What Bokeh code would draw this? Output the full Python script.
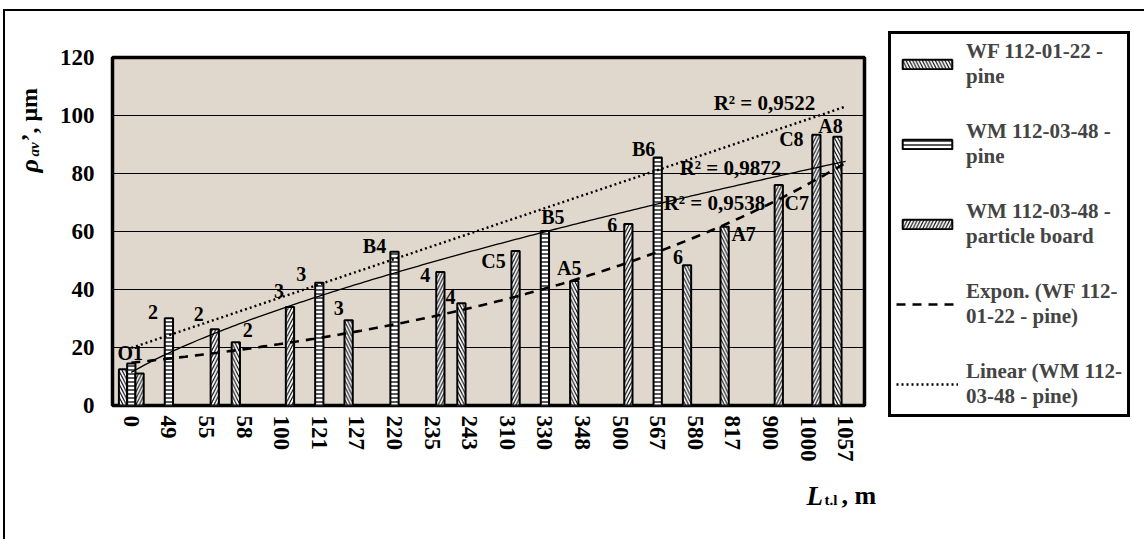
import numpy as np
from bokeh.plotting import figure
from bokeh.models import ColumnDataSource, Legend, LegendItem, Label, FixedTicker
from bokeh.core.properties import value
from bokeh.embed import file_html
from bokeh.resources import INLINE

# ---------------- data ----------------
categories = ["0", "49", "55", "58", "100", "121", "127", "220", "235", "243",
              "310", "330", "348", "500", "567", "580", "817", "900", "1000", "1057"]
wf_pine = [12.5, None, None, 21.8, None, None, 29.4, None, None, 35.3,
           None, None, 42.9, None, None, 48.4, 61.6, None, None, 92.7]
wm_pine = [14.5, 30.1, None, None, None, 42.3, None, 53.0, None, None,
           None, 60.2, None, None, 85.5, None, None, None, None, None]
wm_board = [11.0, None, 26.3, None, 34.0, None, None, None, 46.0, None,
            53.3, None, None, 62.6, None, None, None, 76.0, 93.4, None]
point_labels = ["O1", "2", "2", "2", "3", "3", "3", "B4", "4", "4",
                "C5", "B5", "A5", "6", "B6", "6", "A7", "C7", "C8", "A8"]
r2_texts = ["R² = 0,9522", "R² = 0,9872", "R² = 0,9538"]
series_names = ["WF 112-01-22 -\npine", "WM 112-03-48 -\npine", "WM 112-03-48 -\nparticle board"]
trend_names = ["Expon. (WF 112-\n01-22 - pine)", "Linear (WM 112-\n03-48 - pine)"]

# ---------------- layout constants ----------------
FONT = "Liberation Serif"
OX, OY = 5, 11                        # page position of the canvas (css margin + border)
FL, FT, FW, FH = 112, 57, 752, 348    # frame in page pixels
TOTAL_W, TOTAL_H = 1138, 528
YMAX = 120
NCAT = len(categories)
PXX = FW / NCAT
PXY = FH / YMAX

def to_data(px, py):
    return (px - FL) / PXX - 0.5, (FT + FH - py) / PXY

bar_w = 0.22
offsets = [-0.22, 0.0, 0.22]
# label offsets in px relative to bar top centre (dx right, dy up)
label_dx = [-1, -16, -16, 12, -11, -18, -10, -20, -15, -11, -22, 8, -5, -16, -14, -9, 19, 18, -25, -7]
label_dy = [10, 6, 15, 12, 16, 9, 12, 6, -3, 6, -10, 14, 13, -1, 9, 8, -7, -18, -4, 11]

p = figure(frame_width=FW, frame_height=FH, output_backend="svg", toolbar_location=None,
           x_range=(-0.5, NCAT - 0.5), y_range=(0, YMAX),
           min_border_left=FL - OX, min_border_top=FT - OY,
           min_border_right=TOTAL_W - (FL - OX) - FW, min_border_bottom=TOTAL_H - (FT - OY) - FH)
p.styles = {"margin-left": "3px", "margin-top": "9px",
            "border-left": "2px solid black", "border-top": "2px solid black"}
p.background_fill_color = "#e0d8cc"
p.border_fill_color = "white"
p.outline_line_color = "black"
p.outline_line_width = 3.5

# grid
p.xgrid.grid_line_color = None
p.ygrid.grid_line_color = "black"
p.ygrid.grid_line_width = 1.2
p.ygrid.ticker = FixedTicker(ticks=list(range(0, YMAX + 1, 20)))

# axes
p.yaxis.ticker = FixedTicker(ticks=list(range(0, YMAX + 1, 20)))
p.xaxis.ticker = FixedTicker(ticks=list(range(NCAT)))
p.xaxis.major_label_overrides = {i: c for i, c in enumerate(categories)}
p.xaxis.major_label_orientation = "vertical"
for ax in (p.xaxis, p.yaxis):
    ax.axis_line_color = None
    ax.major_tick_line_color = None
    ax.minor_tick_line_color = None
    ax.major_label_text_font = FONT
    ax.major_label_text_font_style = "bold"
    ax.major_label_text_font_size = "23px"
    ax.major_label_text_color = "black"
p.yaxis.major_label_standoff = 12
p.xaxis.major_label_standoff = 4

# bars
hatches = ["left_diagonal_line", "horizontal_line", "right_diagonal_line"]
hscale = [6.5, 4.0, 6.5]
hweight = [1.1, 1.3, 1.1]
bar_renderers = []
for k, vals in enumerate([wf_pine, wm_pine, wm_board]):
    xs = [i + offsets[k] for i, v in enumerate(vals) if v is not None]
    ys = [v for v in vals if v is not None]
    src = ColumnDataSource(dict(x=xs, top=ys))
    r = p.vbar(x="x", top="top", width=bar_w, bottom=0, source=src,
               fill_color="white", line_color="black", line_width=2,
               hatch_pattern=hatches[k], hatch_color="black", hatch_scale=hscale[k],
               hatch_weight=hweight[k])
    bar_renderers.append(r)

# point labels
lx, ly = [], []
for i in range(NCAT):
    if wm_pine[i] is not None:
        lx.append(i + offsets[1]); ly.append(wm_pine[i])
    elif wf_pine[i] is not None:
        lx.append(i + offsets[0]); ly.append(wf_pine[i])
    else:
        lx.append(i + offsets[2]); ly.append(wm_board[i])
lsrc = ColumnDataSource(dict(x=lx, y=ly, text=point_labels,
                             dx=label_dx, dy=[-d for d in label_dy]))
p.text(x="x", y="y", text="text", x_offset="dx", y_offset="dy", source=lsrc,
       text_font=value(FONT), text_font_style="bold", text_font_size="20px",
       text_align="center", text_baseline="middle", text_color="black")

# trendlines (fitted like Excel on category index 1..N)
def pts(vals):
    x = np.array([i + 1 for i, v in enumerate(vals) if v is not None], float)
    y = np.array([v for v in vals if v is not None], float)
    return x, y

xx = np.linspace(1, NCAT, 200)
xw, yw = pts(wf_pine)
b_e, lna_e = np.polyfit(xw, np.log(yw), 1)
y_exp = np.exp(lna_e) * np.exp(b_e * xx)
xp, yp = pts(wm_pine)
m_l, c_l = np.polyfit(xp, yp, 1)
y_lin = m_l * xx + c_l
xb, yb = pts(wm_board)
b_p, lna_p = np.polyfit(np.log(xb), np.log(yb), 1)
y_pow = np.exp(lna_p) * xx ** b_p

r_pow = p.line(xx - 1, y_pow, line_color="black", line_width=1.3)
r_exp = p.line(xx - 1, y_exp, line_color="black", line_width=2.6, line_dash="9 7")
r_lin = p.line(xx - 1, y_lin, line_color="black", line_width=2.4, line_dash="2 3")

# R² labels
r2_pos = [(764, 102), (730, 167), (714, 202)]
for t, (px, py) in zip(r2_texts, r2_pos):
    x, y = to_data(px, py)
    p.add_layout(Label(x=x, y=y, text=t, text_font=FONT, text_font_style="bold",
                       text_color="black", text_font_size="21px",
                       text_align="center", text_baseline="middle"))

# legend (right panel, next to the frame)
items = [LegendItem(label=series_names[k], renderers=[bar_renderers[k]]) for k in range(3)]
items += [LegendItem(label=trend_names[0], renderers=[r_exp]),
          LegendItem(label=trend_names[1], renderers=[r_lin])]
legend = Legend(items=items, location=(24, -12), border_line_color="black",
                border_line_width=3, border_line_alpha=1.0,
                background_fill_color="white", background_fill_alpha=1,
                padding=5, margin=0, spacing=30, glyph_width=62, glyph_height=12,
                label_standoff=8, label_text_font=FONT, label_text_font_style="bold",
                label_text_font_size="21px", label_text_line_height=1.15)
p.add_layout(legend, "right")

# axis titles (in side panels so they are not clipped to the frame;
# panels chosen so that the frame keeps its size and place)
def lab(text, px, py, size, style, place, angle=0.0, baseline="alphabetic"):
    x, y = to_data(px, py)
    p.add_layout(Label(x=x, y=y, text=text, text_font=FONT, text_font_style=style,
                       text_color="black", text_font_size=f"{size}px", angle=angle,
                       text_align="left", text_baseline=baseline), place)

lab("L", 806, 495, 27, "bold italic", "below")
lab("t.l", 824, 499, 15, "bold", "above")
lab(", m", 841, 495, 26, "bold", "below")
lab("ρ", 29, 172, 26, "bold italic", "left", angle=np.pi / 2, baseline="middle")
lab("av", 33, 156, 15, "bold italic", "left", angle=np.pi / 2, baseline="middle")
lab("\u2019, μm", 28, 141, 24, "bold", "right", angle=np.pi / 2, baseline="middle")

open("out.html", "w").write(file_html(p, INLINE))
